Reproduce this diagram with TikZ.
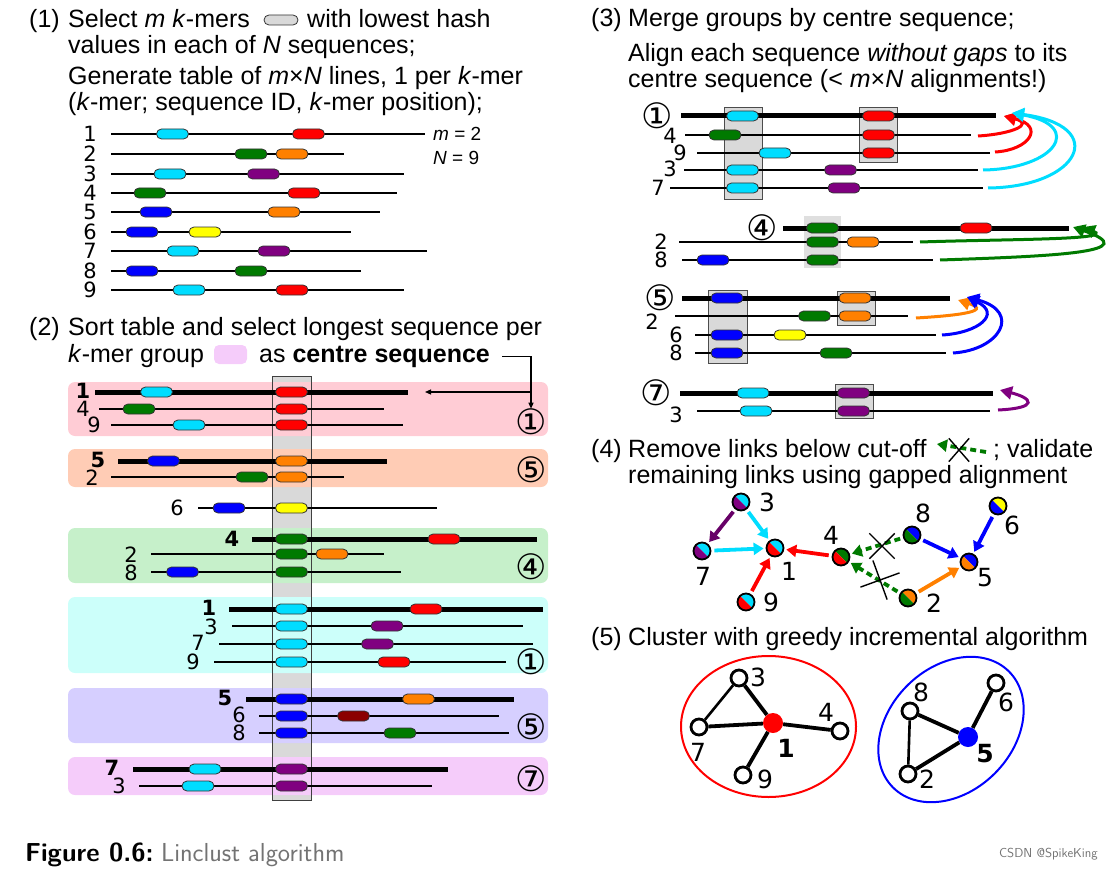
\documentclass[tikz,border=0pt]{standalone}
\usepackage{fontspec}
\setmainfont{Liberation Sans}
\newfontfamily\numfont{DejaVu Sans}
\usetikzlibrary{arrows.meta, positioning, shapes.misc, calc}
\definecolor{kcyan}{HTML}{00DDFF}
\definecolor{kred}{HTML}{FF0000}
\definecolor{kgreen}{HTML}{007A00}
\definecolor{korange}{HTML}{FF8000}
\definecolor{kpurple}{HTML}{800080}
\definecolor{kblue}{HTML}{0000FF}
\definecolor{kyellow}{HTML}{FFFF00}
\definecolor{kdred}{HTML}{8B0000}
\definecolor{gpink}{HTML}{FFCCD5}
\definecolor{gpeach}{HTML}{FFCCB5}
\definecolor{ggreen}{HTML}{C6F0CA}
\definecolor{gcyan}{HTML}{CCFFFA}
\definecolor{glav}{HTML}{D6CFFF}
\definecolor{gmag}{HTML}{F5CCFA}
\definecolor{colgray}{HTML}{D9D9D9}

\begin{document}
\begin{tikzpicture}[
    x=1pt, y=-1pt,
    txt/.style={inner sep=0, anchor=base west, font=\fontsize{25}{26}\selectfont},
    mtxt/.style={inner sep=0, anchor=base west, font=\fontsize{19}{19}\selectfont},
    lbl/.style={inner sep=0, font=\numfont\fontsize{21}{21}\selectfont},
    glbl/.style={inner sep=0, font=\numfont\fontsize{25}{25}\selectfont},
    circ/.style={inner sep=0, font=\numfont\fontsize{35}{35}\selectfont},
    kmer/.style={draw=black!80, line width=0.8, rounded corners=5, minimum width=32, minimum height=10, inner sep=0},
    seq/.style={line width=2},
    cseq/.style={line width=5},
    grp/.style={rounded corners=7},
    hbox/.style={fill=colgray, draw=black!70, line width=1},
    ptr/.style={line width=1.1, -{Triangle[length=6pt, width=5pt]}},
    merge/.style={line width=3, -{Triangle[length=12pt, width=13pt]}},
    duo/.style 2 args={circle, draw, line width=1.8, minimum size=17, inner sep=0,
        path picture={
            \fill[#1] (path picture bounding box.north west) -- (path picture bounding box.north east) -- (path picture bounding box.south east) -- cycle;
            \fill[#2] (path picture bounding box.north west) -- (path picture bounding box.south west) -- (path picture bounding box.south east) -- cycle;}},
    link/.style={line width=3.8, -{Triangle[length=10pt, width=12pt]}, shorten >=2pt, shorten <=3pt},
    cut/.style={cross out, draw, line width=1.4, inner sep=0},
    onode/.style={circle, draw, line width=2.8, minimum size=16, inner sep=0},
    fnode/.style={circle, minimum size=20, inner sep=0},
    tie/.style={line width=3.8},
    thintie/.style={line width=2.6},
    capt/.style={inner sep=0, anchor=base west, font=\sffamily\fontsize{26}{26}\selectfont}
]
\useasboundingbox (0,0) rectangle (1113,869);

% (1)
\node[txt] (n1) at (29,28) {(1)};
\node[txt] (t1a) at (68,28) {Select \textit{m} \textit{k}-mers};
\node[kmer, fill=black!15, minimum width=34, minimum height=10, rounded corners=5] (kleg) at (281,20) {};
\node[txt] (t1b) at (307,28) {with lowest hash};
\node[txt] (t1c) at (68,54) {values in each of \textit{N} sequences;};
\node[txt] (t1d) at (68,85) {Generate table of \textit{m}×\textit{N} lines, 1 per \textit{k}-mer};
\node[txt] (t1e) at (68,111) {(\textit{k}-mer; sequence ID, \textit{k}-mer position);};
\node[mtxt] (mm) at (433,141) {\textit{m} = 2};
\node[mtxt] (nn) at (433,165) {\textit{N} = 9};
\foreach \n/\y/\e/\pa/\ca/\pb/\cb in {1/134/425/172.5/kcyan/308.5/kred, 2/154/344/251/kgreen/292/korange,
    3/174/404/170/kcyan/263.5/kpurple, 4/193/397/150/kgreen/304/kred, 5/212/380/156/kblue/284/korange,
    6/232/351/142/kblue/205/kyellow, 7/251/427/183/kcyan/274/kpurple, 8/271/361/142/kblue/251/kgreen,
    9/290/404/189/kcyan/292/kred}{
    \node[lbl] (s1-\n) at (90,\y) {\n};
    \draw[seq] (111,\y) -- (\e,\y);
    \node[kmer, fill=\ca] (k1-\n-a) at (\pa,\y) {};
    \node[kmer, fill=\cb] (k1-\n-b) at (\pb,\y) {};
}

% (2)
\node[txt] (n2) at (29,335) {(2)};
\node[txt] (t2a) at (68,335) {Sort table and select longest sequence per};
\node[txt] (t2b) at (68,362) {\textit{k}-mer group};
\node[fill=gmag, rounded corners=5, minimum width=33, minimum height=19, inner sep=0] (gleg) at (230.5,354.5) {};
\node[txt] (t2c) at (259,362) {as \textbf{centre sequence}};
\fill[colgray] (272,376) rectangle (311,800);
\fill[grp, gpink] (68,382) rectangle (548,436);
\fill[grp, gpeach] (68,449) rectangle (548,487);
\fill[grp, ggreen] (68,528) rectangle (548,583);
\fill[grp, gcyan] (68,597) rectangle (548,673);
\fill[grp, glav] (68,688) rectangle (548,743);
\fill[grp, gmag] (68,757) rectangle (548,795);
\draw[black!75, line width=1] (272,376) rectangle (311,800);
\foreach \n/\lx/\ly/\f/\a/\b/\y/\w/\px/\pc/\cc in {
    1/83/391/\bfseries/95/408/392/5/156.5/kcyan/kred, 4/83/409/\mdseries/99/384/409/2/139/kgreen/kred,
    9/94/425/\mdseries/111/403/425/2/189/kcyan/kred, 5/98/460/\bfseries/118/387/461/5/163.5/kblue/korange,
    2/92/478/\mdseries/111/344/477/2/252/kgreen/korange, 6/177/508/\mdseries/198/437/508/2/229/kblue/kyellow,
    4/232/539/\bfseries/252/537/539/5/444/kred/kgreen, 2/131/555/\mdseries/151/384/554/2/332/korange/kgreen,
    8/131/573/\mdseries/151/401/572/2/182.5/kblue/kgreen, 1/209/608/\bfseries/229/543/609/5/426/kred/kcyan,
    3/211/627/\mdseries/232/523/626/2/387/kpurple/kcyan, 7/198/643/\mdseries/219/533/644/2/377.5/kpurple/kcyan,
    9/193/662/\mdseries/214/506/662/2/394/kred/kcyan, 5/225/698/\bfseries/246/514/699/5/418.5/korange/kblue,
    6/239/715/\mdseries/259/499/716/2/353.5/kdred/kblue, 8/239/733/\mdseries/259/509/733/2/400/kgreen/kblue,
    7/112/768/\bfseries/133/448/769/5/205/kcyan/kpurple, 3/119/786/\mdseries/139/432/786/2/198/kcyan/kpurple}{
    \node[lbl] (s2-\y) at (\lx,\ly) {\f\n};
    \draw[line width=\w] (\a,\y) -- (\b,\y);
    \node[kmer, fill=\pc] (k2-\y-a) at (\px,\y) {};
    \node[kmer, fill=\cc] (k2-\y-b) at (291.5,\y) {};
}
\node[circ] (c2a) at (531,422) {①};
\node[circ] (c2b) at (531,470) {⑤};
\node[circ] (c2c) at (531,567) {④};
\node[circ] (c2d) at (531,662) {①};
\node[circ] (c2e) at (531,727) {⑤};
\node[circ] (c2f) at (531,779) {⑦};
\coordinate (hub) at (531,392);
\coordinate (tip1) at (425,392);
\draw[line width=1.1] ([xshift=12pt]t2c.east) -| (hub);
\draw[ptr] (hub) -- (tip1);
\draw[ptr] (hub) -- (c2a.north);

% (3)
\node[txt] (n3) at (591,27) {(3)};
\node[txt] (t3a) at (628,27) {Merge groups by centre sequence;};
\node[txt] (t3b) at (628,62) {Align each sequence \textit{without gaps} to its};
\node[txt] (t3c) at (628,88) {centre sequence (< \textit{m}×\textit{N} alignments!)};
\filldraw[hbox] (724,108) rectangle (762,200);
\filldraw[hbox] (859,108) rectangle (897,163);
\fill[colgray!85] (804,216) rectangle (841,268);
\filldraw[hbox] (708,290) rectangle (747,363);
\filldraw[hbox] (837,291) rectangle (875,325);
\filldraw[hbox] (835,384) rectangle (873,418);
\foreach \n/\lx/\y/\a/\b/\pa/\ca/\pb/\cb in {①/657/116/681/996/742.5/kcyan/878.5/kred,
    ④/762/228/783/1069/822.5/kgreen/976/kred, ⑤/660/298/682/950/727/kblue/855/korange,
    ⑦/656/393/680/993/753/kcyan/853.5/kpurple}{
    \node[circ] (s3-\y) at (\lx,\y) {\n};
    \draw[cseq] (\a,\y) -- (\b,\y);
    \node[kmer, fill=\ca] (k3-\y-a) at (\pa,\y) {};
    \node[kmer, fill=\cb] (k3-\y-b) at (\pb,\y) {};
}
\foreach \n/\lx/\ly/\a/\b/\y/\pa/\ca/\pb/\cb in {4/670/136/685/971/135/725/kgreen/878.5/kred,
    9/680/153/697/990/153/775/kcyan/878.5/kred, 3/670/169/684/978/170/742.5/kcyan/840.5/kpurple,
    7/658/188/670/983/188/742.5/kcyan/844/kpurple, 2/661/242/679/913/242/822.5/kgreen/863/korange,
    8/661/260/682/933/260/713/kblue/822.5/kgreen, 2/652/322/675/908/316/814.5/kgreen/855/korange,
    6/676/335/695/936/335/727/kblue/790/kyellow, 8/676/353/695/946/353/727/kblue/836/kgreen,
    3/676/415/697/990/411/756/kcyan/853.5/kpurple}{
    \node[lbl] (s3-\y) at (\lx,\ly) {\n};
    \draw[seq] (\a,\y) -- (\b,\y);
    \node[kmer, fill=\ca] (k3-\y-a) at (\pa,\y) {};
    \node[kmer, fill=\cb] (k3-\y-b) at (\pb,\y) {};
}
\coordinate (m4) at (978,136);
\coordinate (m9) at (995,152);
\coordinate (m3) at (983,170);
\coordinate (m7) at (988,188);
\coordinate (m1r) at (1004,116);
\coordinate (m1c) at (1012,113);
\draw[merge, kred] (m4) .. controls (1012,134) and (1035,124) .. (m1r);
\draw[merge, kred] (m9) .. controls (1030,150) and (1045,126) .. (m1r);
\draw[merge, kcyan] (m3) .. controls (1055,169) and (1085,126) .. (m1c);
\draw[merge, kcyan] (m7) .. controls (1080,187) and (1110,126) .. (m1c);
\coordinate (m2g) at (920,242);
\coordinate (m8g) at (940,260);
\coordinate (m4g) at (1083,227);
\coordinate (m4h) at (1073,227);
\draw[merge, kgreen] (m2g) .. controls (1010,239) and (1115,240) .. (m4g);
\draw[merge, kgreen] (m8g) .. controls (1060,256) and (1145,252) .. (m4h);
\coordinate (m2o) at (916,318);
\coordinate (m6b) at (942,335);
\coordinate (m8b) at (953,353);
\coordinate (m5o) at (958,300);
\coordinate (m5b) at (967,297);
\draw[merge, korange] (m2o) .. controls (950,316) and (995,312) .. (m5o);
\draw[merge, kblue] (m6b) .. controls (978,333) and (1002,314) .. (m5b);
\draw[merge, kblue] (m8b) .. controls (1000,350) and (1022,312) .. (m5b);
\coordinate (m3p) at (998,410);
\coordinate (m7p) at (1000,390);
\draw[merge, kpurple] (m3p) .. controls (1040,408) and (1032,398) .. (m7p);

% (4)
\node[txt] (n4) at (591,457) {(4)};
\node[txt] (t4a) at (628,457) {Remove links below cut-off};
\coordinate (lg-s) at (986,452);
\coordinate (lg-e) at (937,444);
\draw[link, kgreen, dash pattern=on 6pt off 4pt, shorten >=0pt, shorten <=0pt] (lg-s) -- (lg-e);
\node[cut, minimum width=19, minimum height=22] (lgx) at (959,450) {};
\node[txt] (t4b) at (993,457) {; validate};
\node[txt] (t4c) at (628,483) {remaining links using gapped alignment};
\node[duo={kcyan}{kpurple}] (g3) at (741,502) {};
\node[duo={kcyan}{kpurple}] (g7) at (702,551) {};
\node[duo={kcyan}{kred}] (g1) at (775,548) {};
\node[duo={kcyan}{kred}] (g9) at (746,602) {};
\node[duo={kgreen}{kred}] (g4) at (841,557) {};
\node[duo={kblue}{kgreen}] (g8) at (912,535) {};
\node[duo={korange}{kgreen}] (g2) at (908,598) {};
\node[duo={kblue}{korange}] (g5) at (969,562) {};
\node[duo={kyellow}{kblue}] (g6) at (998,506) {};
\node[glbl] (q3) at (767,502) {3};
\node[glbl] (q7) at (703,576) {7};
\node[glbl] (q1) at (789,571) {1};
\node[glbl] (q9) at (771,602) {9};
\node[glbl] (q4) at (831,535) {4};
\node[glbl] (q8) at (923,513) {8};
\node[glbl] (q2) at (934,603) {2};
\node[glbl] (q5) at (985,578) {5};
\node[glbl] (q6) at (1012,525) {6};
\draw[link, kpurple!80!black] (g3) -- (g7);
\draw[link, kcyan] (g3) -- (g1);
\draw[link, kcyan] (g7) -- (g1);
\draw[link, kred] (g9) -- (g1);
\draw[link, kred] (g4) -- (g1);
\draw[link, kgreen, dash pattern=on 6pt off 4pt] (g8) -- (g4);
\draw[link, kgreen, dash pattern=on 6pt off 4pt] (g2) -- (g4);
\draw[link, kblue] (g8) -- (g5);
\draw[link, kblue] (g6) -- (g5);
\draw[link, korange] (g2) -- (g5);
\node[cut, minimum size=24] (x84) at (882,546) {};
\node[cut, minimum size=28, rotate=-25] (x24) at (880,580) {};

% (5)
\node[txt] (n5) at (591,645) {(5)};
\node[txt] (t5a) at (628,645) {Cluster with greedy incremental algorithm};
\draw[kred, line width=2] (768.5,726.5) ellipse [x radius=87.5, y radius=70.5];
\draw[kblue, line width=2, rotate around={45:(951,729.5)}] (951,729.5) ellipse [x radius=82, y radius=62];
\node[onode] (c3) at (739,678) {};
\node[onode] (c7) at (699,727) {};
\node[fnode, fill=kred] (c1) at (773,723) {};
\node[onode] (c4) at (840,731) {};
\node[onode] (c9) at (743,775) {};
\node[onode] (d8) at (910,711) {};
\node[onode] (d6) at (996,683) {};
\node[fnode, fill=kblue] (d5) at (968,737) {};
\node[onode] (d2) at (908,774) {};
\draw[tie] (c3) -- (c1);
\draw[thintie] (c3) -- (c7);
\draw[tie] (c7) -- (c1);
\draw[tie] (c1) -- (c4);
\draw[tie] (c1) -- (c9);
\draw[tie] (d8) -- (d5);
\draw[tie] (d6) -- (d5);
\draw[tie] (d2) -- (d5);
\draw[thintie] (d8) -- (d2);
\node[glbl] (r3) at (758,677) {3};
\node[glbl] (r7) at (698,752) {7};
\node[glbl] (r1) at (786,748) {\bfseries 1};
\node[glbl] (r4) at (826,712) {4};
\node[glbl] (r9) at (765,779) {9};
\node[glbl] (r8) at (921,692) {8};
\node[glbl] (r6) at (1006,702) {6};
\node[glbl] (r5) at (985,754) {\bfseries 5};
\node[glbl] (r2) at (927,779) {2};

\node[capt] (fig) at (25,861) {\bfseries Figure 0.6:};
\node[capt, text=black!55, base right=7pt of fig] (figt) {Linclust algorithm};
\node[inner sep=0, anchor=base east, font=\sffamily\fontsize{13}{13}\selectfont, text=black!55] (wm) at (1098,857) {CSDN @SpikeKing};
\end{tikzpicture}
\end{document}
